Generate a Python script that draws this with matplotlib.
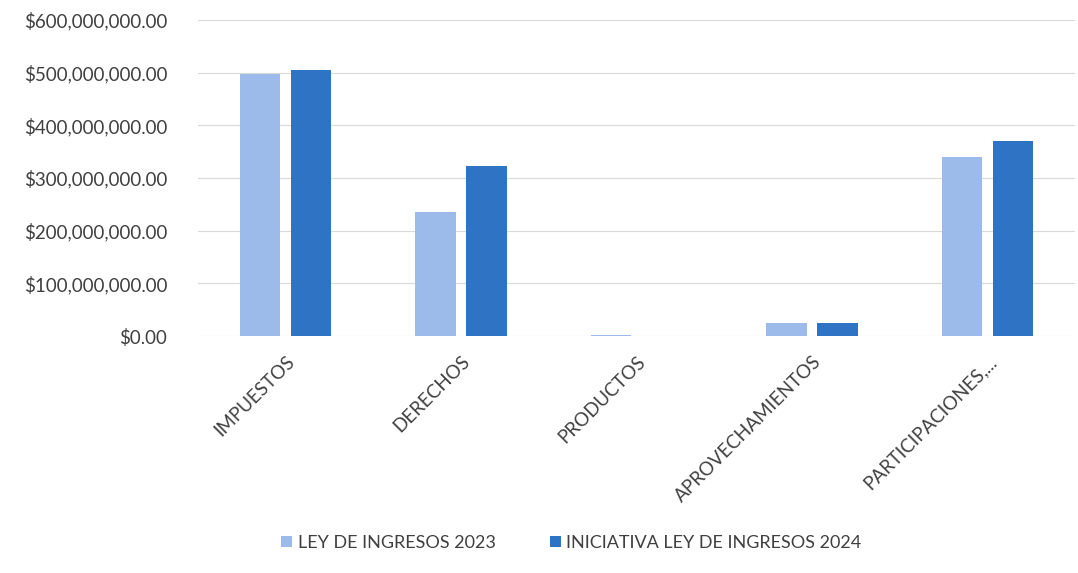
import matplotlib.pyplot as plt
import numpy as np
from matplotlib.ticker import FuncFormatter

# Rubros de ingreso
categorias = ["IMPUESTOS", "DERECHOS", "PRODUCTOS", "APROVECHAMIENTOS", "PARTICIPACIONES,..."]
ley_2023 = [498e6, 236e6, 2.5e6, 24e6, 340e6]
iniciativa_2024 = [505e6, 322e6, 0.8e6, 25e6, 371e6]
series = ["LEY DE INGRESOS 2023", "INICIATIVA LEY DE INGRESOS 2024"]

plt.rcParams['font.family'] = ['Lato', 'DejaVu Sans']
color_texto = '#404040'

fig = plt.figure(figsize=(10.78, 5.73), dpi=100)
ax = fig.add_axes([198 / 1078, 1 - 336 / 573, 877 / 1078, 316 / 573])

x = np.arange(len(categorias))
ancho = 0.23
ax.bar(x - 0.145, ley_2023, ancho, color='#9dbbea', label=series[0], zorder=3)
ax.bar(x + 0.145, iniciativa_2024, ancho, color='#2f74c4', label=series[1], zorder=3)

ax.set_xlim(-0.5, len(categorias) - 0.5)
ax.set_ylim(0, 600e6)
ax.set_yticks(np.arange(0, 600e6 + 1, 100e6))
ax.yaxis.set_major_formatter(FuncFormatter(lambda v, p: f"${v:,.2f}"))
ax.grid(axis='y', color='#d9d9d9', linewidth=0.8, zorder=0)

ax.set_xticks(x)
ax.set_xticklabels(categorias, rotation=45, ha='right', rotation_mode='anchor')
ax.tick_params(axis='both', length=0, labelsize=13.5, colors=color_texto)
ax.tick_params(axis='y', pad=22)
ax.tick_params(axis='x', pad=12)

for lado in ax.spines.values():
    lado.set_visible(False)

fig.legend(loc='center', bbox_to_anchor=(0.53, 1 - 543 / 573), ncol=2, frameon=False,
           fontsize=13, handlelength=0.6, handleheight=0.6, columnspacing=3.0,
           handletextpad=0.3, labelcolor=color_texto)

fig.savefig('out.png', dpi=100)
